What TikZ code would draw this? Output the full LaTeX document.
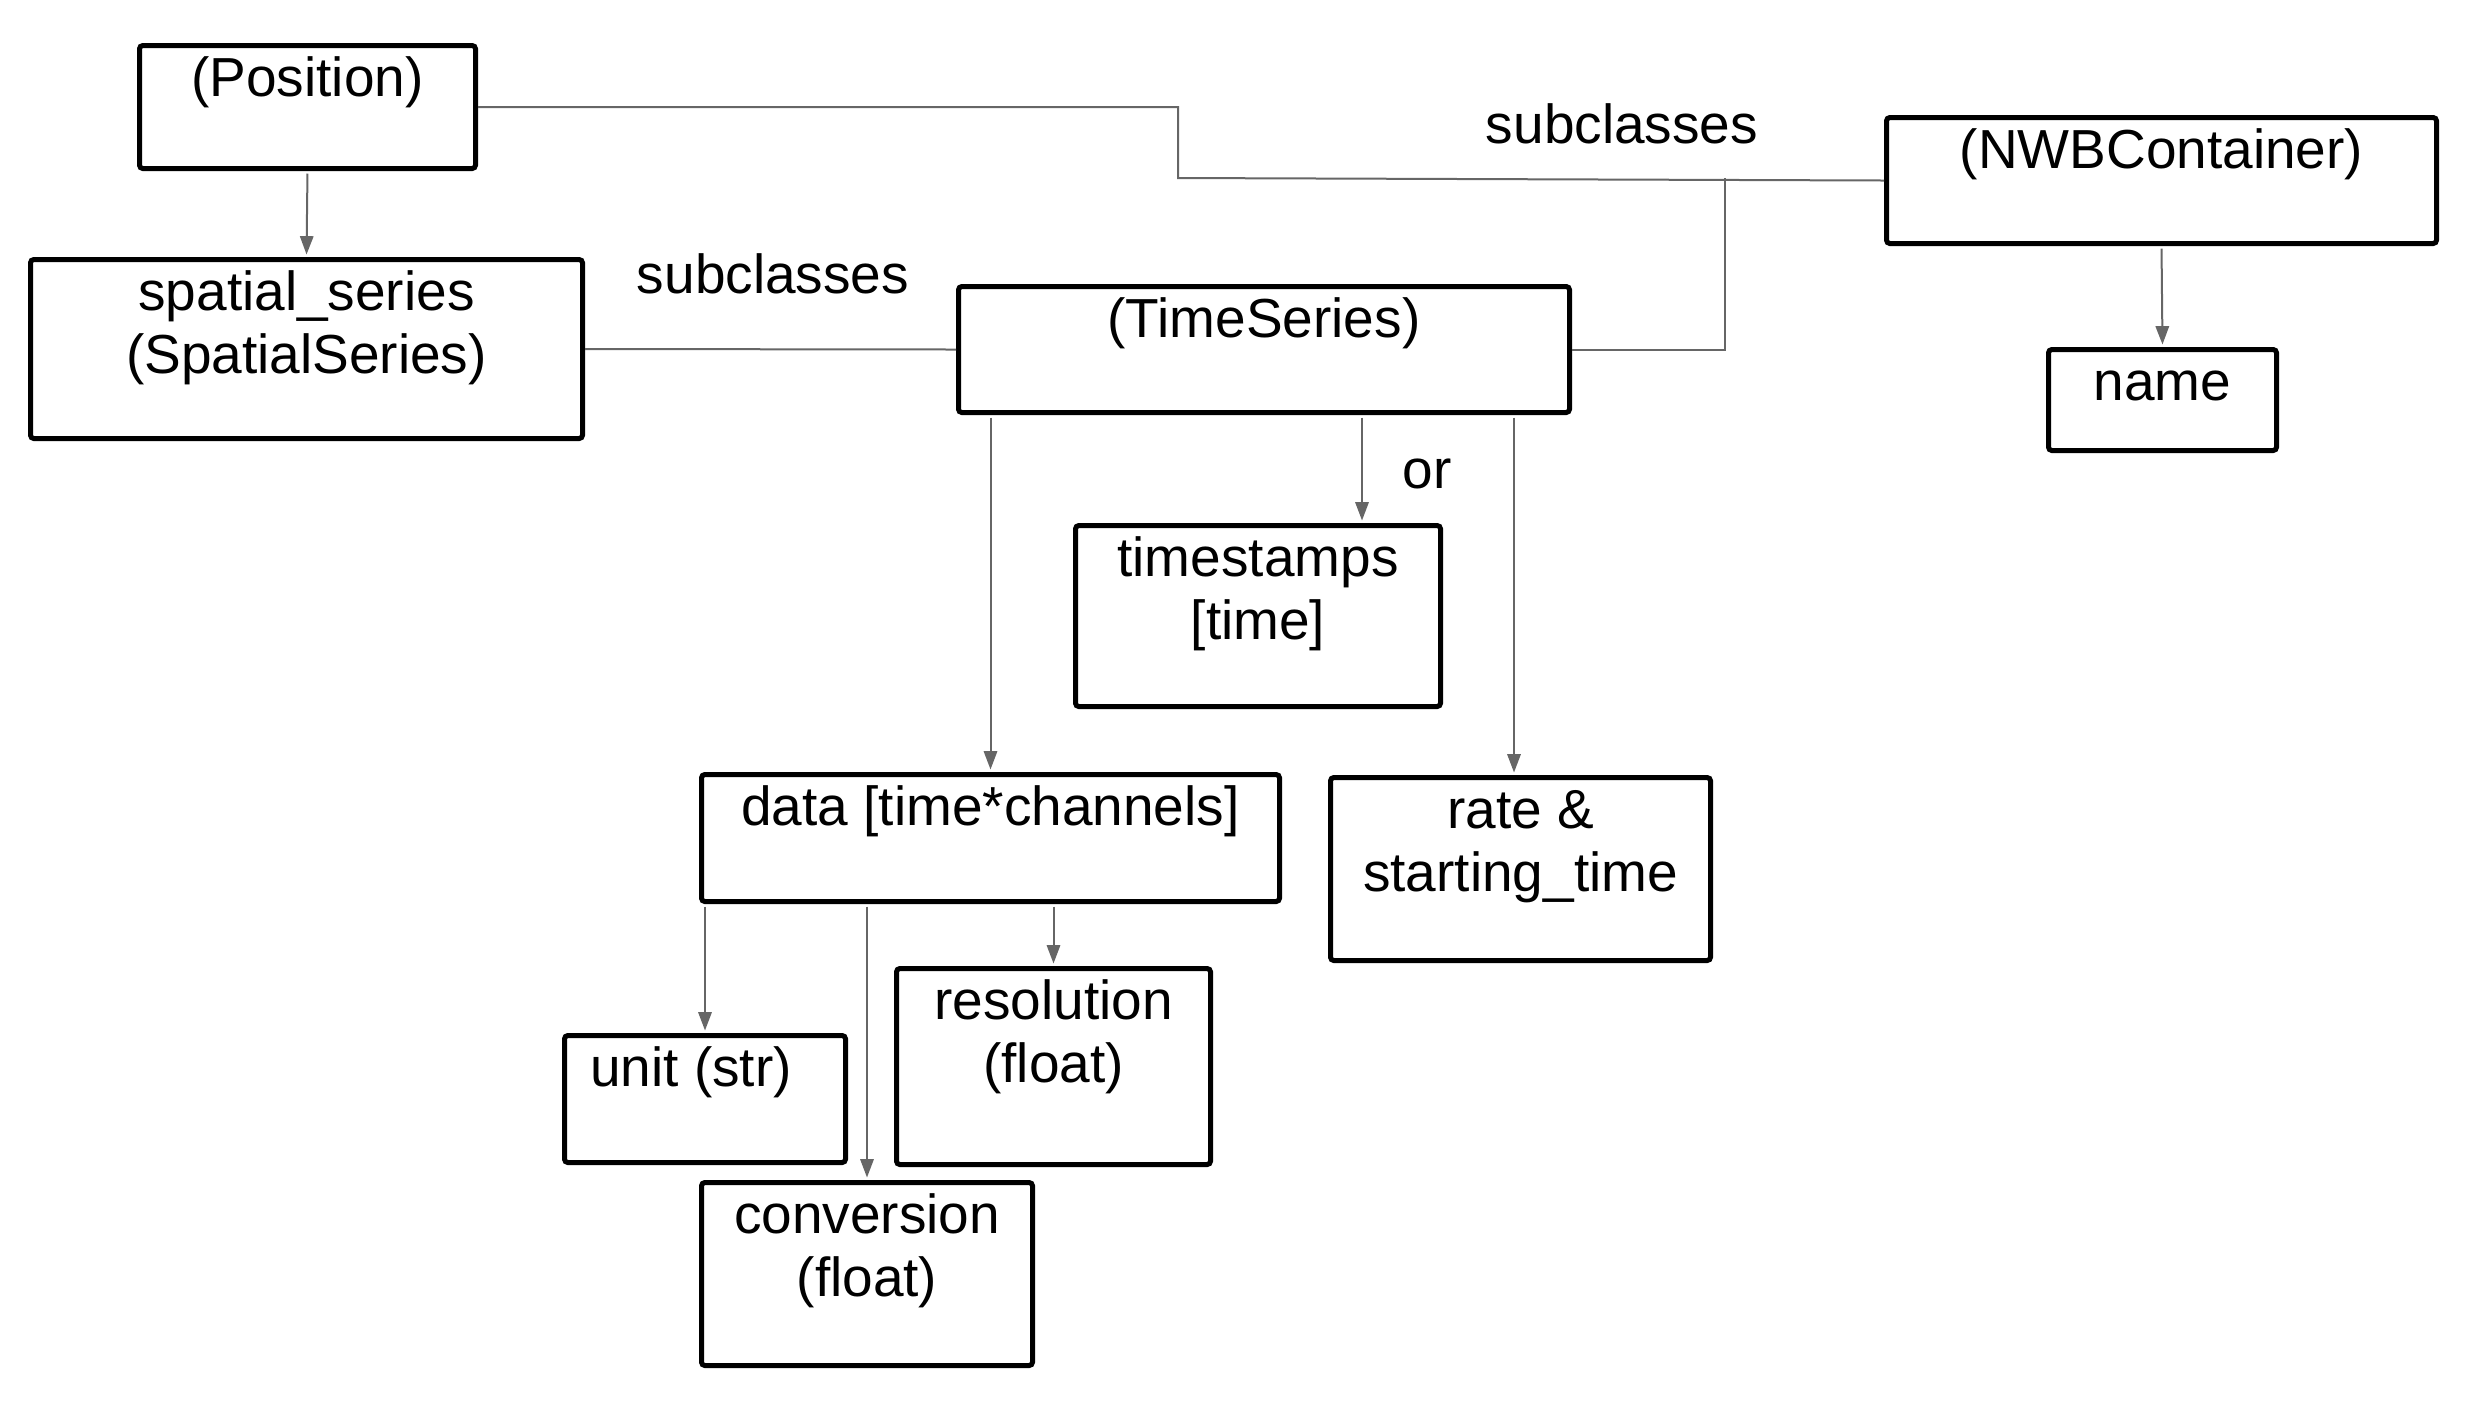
\documentclass[tikz,border=0pt]{standalone}
\usepackage{fontspec}
\setmainfont{Liberation Sans}
\usetikzlibrary{arrows.meta}

\definecolor{linkgray}{HTML}{666666}
\newlength{\pxu}
\setlength{\pxu}{0.3pt}
% box text: width, height (in px), text hung from the top
\newcommand{\boxtxt}[3]{\parbox[t][#2\pxu][t]{#1\pxu}{\centering\rule{0pt}{51\pxu}#3}}

\tikzset{
  box/.style={draw, line width=1.5pt, rounded corners=1pt, inner sep=0pt,
    anchor=north west, font=\fontsize{16.5}{19}\selectfont},
  link/.style={draw=linkgray, line width=0.6pt},
  arr/.style={link, -{Triangle[length=5.5pt,width=4pt]},
    shorten <=0.75pt, shorten >=0.75pt},
  lbl/.style={anchor=base, inner sep=0pt, font=\fontsize{16.5}{19}\selectfont}
}

\begin{document}
\begin{tikzpicture}[x=0.3pt, y=-0.3pt]
  \useasboundingbox (0,0) rectangle (2470,1416);

  % Container classes
  \node[box] (pos) at (137,43) {\boxtxt{336}{123}{(Position)}};
  \node[box] (nwb) at (1884,115) {\boxtxt{550}{126}{(NWBContainer)}};
  \node[box] (spatial) at (28,257) {\boxtxt{552}{179}{spatial\_series\\(SpatialSeries)}};
  \node[box] (ts) at (956,284) {\boxtxt{611}{126}{(TimeSeries)}};
  \node[box] (name) at (2046,347) {\boxtxt{228}{101}{name}};
  % TimeSeries members
  \node[box] (stamps) at (1073,523) {\boxtxt{365}{181}{timestamps\\\relax[time]}};
  \node[box] (data) at (699,772) {\boxtxt{578}{127}{data [time*channels]}};
  \node[box] (rate) at (1328,775) {\boxtxt{380}{183}{rate \&\\starting\_time}};
  % data attributes
  \node[box] (unit) at (562,1033) {\boxtxt{281}{127}{unit (str)\hspace*{28\pxu}}};
  \node[box] (resol) at (894,966) {\boxtxt{314}{196}{resolution\\(float)}};
  \node[box] (conv) at (699,1180) {\boxtxt{331}{183}{conversion\\(float)}};

  % Labels
  \node[lbl] (sub1) at (1622,143) {subclasses};
  \node[lbl] (sub2) at (773,293) {subclasses};
  \node[lbl] (or) at (1427,488) {or};

  % Subclass lines
  \coordinate (bend) at (1178,178);
  \coordinate (junc) at (1725,178);
  \path[link] (pos.east) -| (bend) -- (nwb.west);
  \path[link] (ts.east) -| (junc);
  \path[link] (spatial.east) -- (ts.west);

  % Member arrows
  \path[arr] (pos.south) -- (spatial.north);
  \path[arr] (nwb.south) -- (name.north);
  \path[arr] (data.north |- ts.south) -- (data.north);
  \path[arr] (ts.south -| 1362,0) -- (stamps.north -| 1362,0);
  \path[arr] (ts.south -| 1514,0) -- (rate.north -| 1514,0);
  \path[arr] (unit.north |- data.south) -- (unit.north);
  \path[arr] (conv.north |- data.south) -- (conv.north);
  \path[arr] (resol.north |- data.south) -- (resol.north);

\end{tikzpicture}
\end{document}
